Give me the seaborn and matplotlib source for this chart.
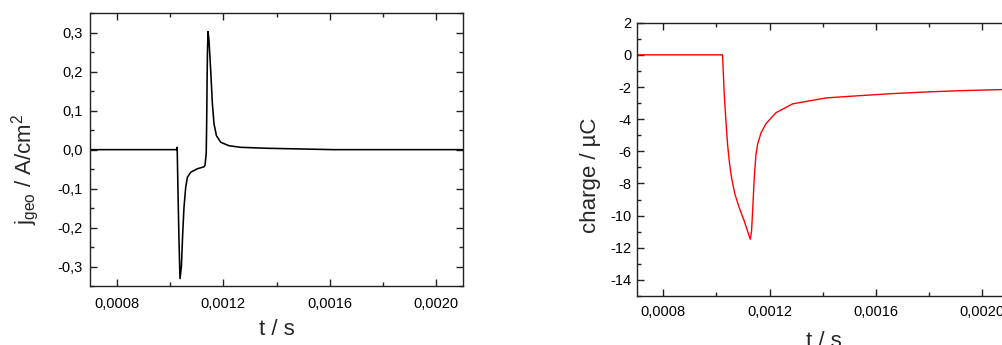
import numpy as np
import pandas as pd
import matplotlib
matplotlib.use("Agg")
import matplotlib.pyplot as plt
from matplotlib.ticker import FixedLocator, FixedFormatter, MultipleLocator
import seaborn as sns

# ---------------- data ----------------
t_current = [0.00070, 0.00100, 0.0010254, 0.0010272, 0.0010302, 0.001034, 0.0010366,
             0.0010378, 0.001043, 0.0010479, 0.0010528, 0.0010592, 0.0010655,
             0.001078, 0.0011031, 0.0011279, 0.0011317, 0.0011362, 0.001138,
             0.0011392, 0.0011407, 0.0011429, 0.0011467, 0.0011531, 0.0011594,
             0.0011655, 0.0011745, 0.0011906, 0.0012218, 0.0012657, 0.001366,
             0.001615, 0.00210]
j_geo = [0.0, 0.0, 0.0, 0.006, -0.105, -0.233, -0.301,
         -0.331, -0.301, -0.216, -0.148, -0.097, -0.071,
         -0.058, -0.049, -0.044, -0.040, -0.010, 0.074,
         0.160, 0.245, 0.303, 0.280, 0.202, 0.117,
         0.066, 0.036, 0.019, 0.010, 0.006, 0.0035,
         0.0, 0.0]

t_charge = [0.00070, 0.00100, 0.0010231, 0.0010258, 0.0010295, 0.0010359, 0.001042,
            0.0010484, 0.001057, 0.0010698, 0.001086, 0.0011048, 0.0011274,
            0.0011323, 0.0011375, 0.0011424, 0.0011488, 0.0011549, 0.0011676,
            0.0011865, 0.0012113, 0.0012241, 0.0012866, 0.0014122, 0.0015375,
            0.0016629, 0.0017885, 0.0019138, 0.0020768, 0.00210]
charge = [0.0, 0.0, 0.0, -1.03, -2.48, -4.13, -5.58,
          -6.62, -7.65, -8.68, -9.51, -10.34, -11.47,
          -10.95, -9.3, -7.65, -6.2, -5.58, -4.86,
          -4.28, -3.83, -3.6, -3.05, -2.68, -2.54,
          -2.41, -2.31, -2.23, -2.16, -2.15]

x_ticks = [0.0008, 0.0012, 0.0016, 0.0020]
x_ticklabels = ["0,0008", "0,0012", "0,0016", "0,0020"]
y1_ticks = [-0.3, -0.2, -0.1, 0.0, 0.1, 0.2, 0.3]
y1_ticklabels = ["-0,3", "-0,2", "-0,1", "0,0", "0,1", "0,2", "0,3"]
y2_ticks = [-14, -12, -10, -8, -6, -4, -2, 0, 2]
y2_ticklabels = ["-14", "-12", "-10", "-8", "-6", "-4", "-2", "0", "2"]

# ---------------- style ----------------
sns.set_style("ticks")
plt.rcParams["font.family"] = ["Liberation Sans", "DejaVu Sans"]
plt.rcParams["mathtext.fontset"] = "custom"
plt.rcParams["mathtext.rm"] = "Liberation Sans"
plt.rcParams["mathtext.it"] = "Liberation Sans"
plt.rcParams["axes.linewidth"] = 1.0
plt.rcParams["axes.edgecolor"] = "#222222"

fig = plt.figure(figsize=(10.03, 3.45), dpi=100)
ax1 = fig.add_axes([90 / 1003, 1 - 286 / 345, 373 / 1003, 272.7 / 345])
ax2 = fig.add_axes([636.7 / 1003, 1 - 296 / 345, 372 / 1003, 273.3 / 345])

df1 = pd.DataFrame({"t": t_current, "j": j_geo})
df2 = pd.DataFrame({"t": t_charge, "q": charge})
sns.lineplot(data=df1, x="t", y="j", ax=ax1, color="black", linewidth=1.15, sort=False)
sns.lineplot(data=df2, x="t", y="q", ax=ax2, color="#ff0000", linewidth=1.0, sort=False)

def style(ax, yt, ytl, ylim, yminor, ypad, xpad):
    ax.set_xlim(0.0007, 0.0021)
    ax.set_ylim(*ylim)
    ax.xaxis.set_major_locator(FixedLocator(x_ticks))
    ax.xaxis.set_major_formatter(FixedFormatter(x_ticklabels))
    ax.xaxis.set_minor_locator(MultipleLocator(0.0002))
    ax.yaxis.set_major_locator(FixedLocator(yt))
    ax.yaxis.set_major_formatter(FixedFormatter(ytl))
    ax.yaxis.set_minor_locator(MultipleLocator(yminor))
    ax.tick_params(which="both", direction="in", top=True, right=True,
                   colors="#222222", labelcolor="black", labelsize=10.5)
    ax.tick_params(which="major", length=5, width=1)
    ax.tick_params(which="minor", length=3, width=1)
    ax.tick_params(axis="y", pad=ypad)
    ax.tick_params(axis="x", pad=xpad)
    for s in ax.spines.values():
        s.set_visible(True)

style(ax1, y1_ticks, y1_ticklabels, (-0.35, 0.35), 0.05, 5, 8)
style(ax2, y2_ticks, y2_ticklabels, (-15, 2), 1, 3.6, 6.5)

ax1.set_xlabel("t / s", fontsize=16)
ax1.set_ylabel(r"$\mathregular{j_{geo}}$ / A/cm$^{\mathregular{2}}$", fontsize=16)
ax2.set_xlabel("t / s", fontsize=16)
ax2.set_ylabel("charge / µC", fontsize=16)

ax1.xaxis.set_label_coords(0.501, -0.122)
ax1.yaxis.set_label_coords(-0.174, 0.43)
ax2.xaxis.set_label_coords(0.503, -0.128)
ax2.yaxis.set_label_coords(-0.1255, 0.443)
ax1.yaxis.label.set_va("center")
ax2.yaxis.label.set_va("center")

fig.savefig("out.png", dpi=100)
